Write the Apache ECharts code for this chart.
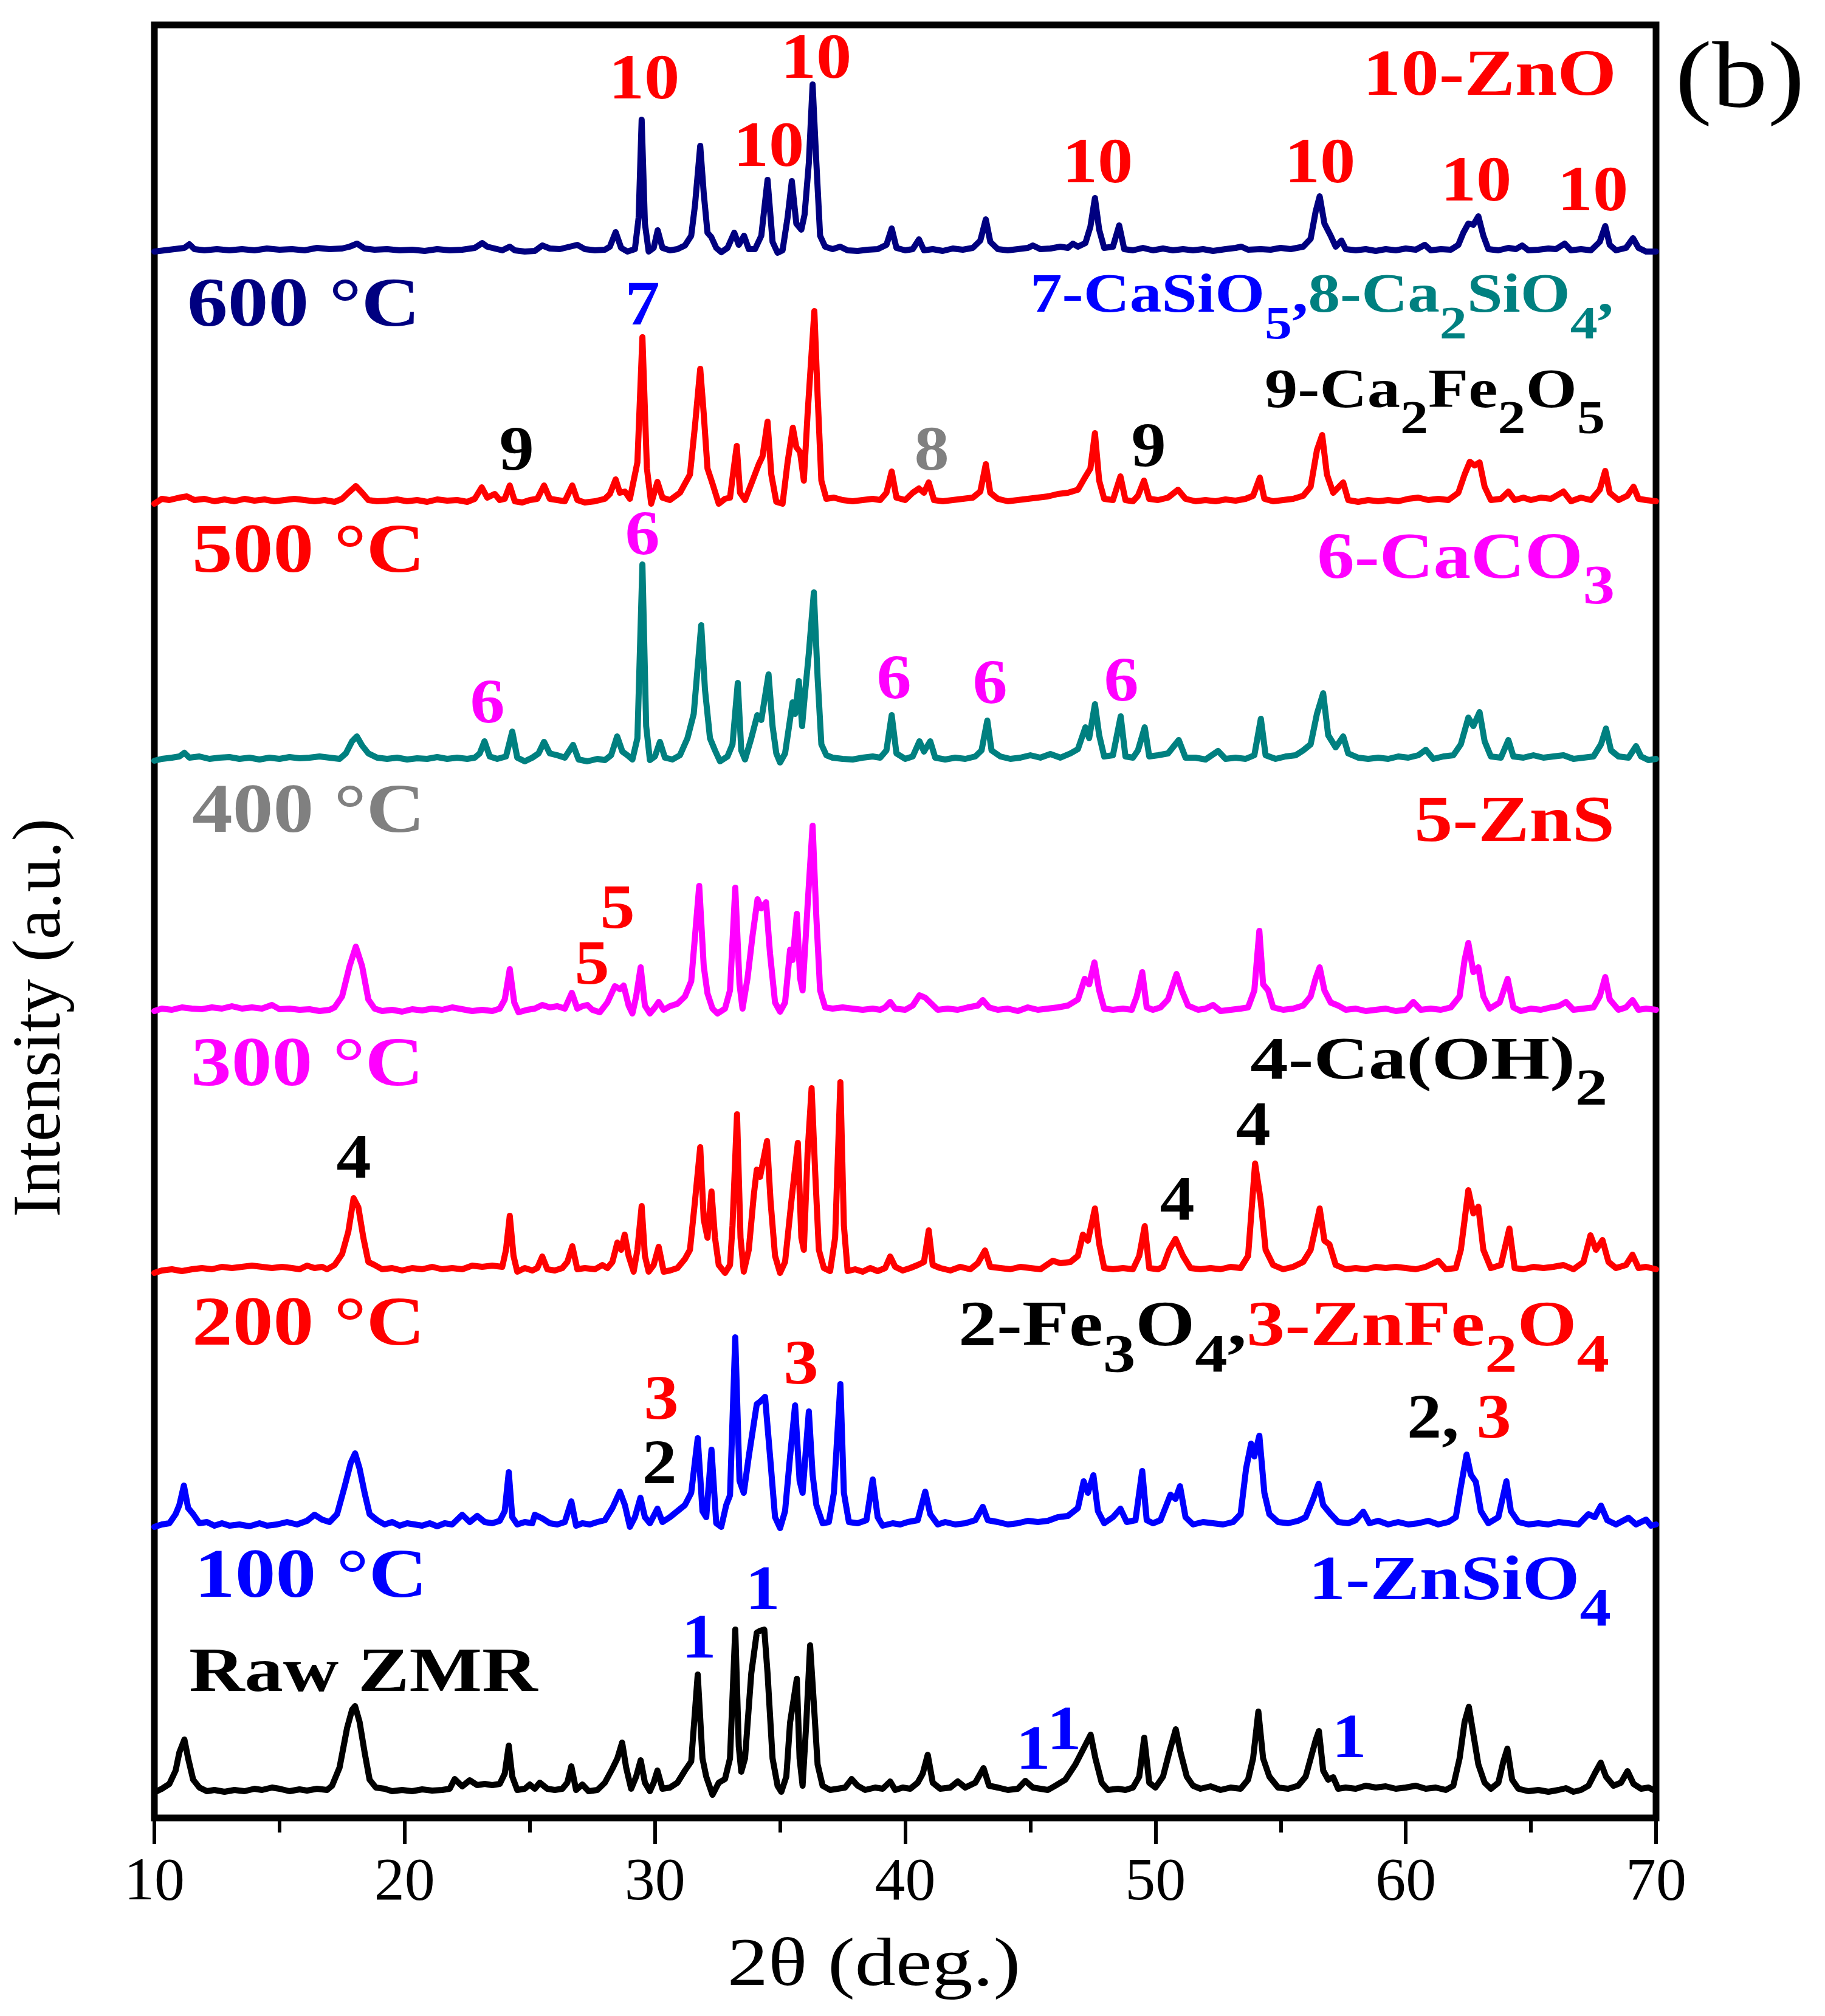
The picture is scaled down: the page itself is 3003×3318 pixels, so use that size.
<!DOCTYPE html>
<html>
<head>
<meta charset="utf-8">
<script src="https://cdn.jsdelivr.net/npm/echarts@6/dist/echarts.min.js"></script>
<style>
  html, body { margin: 0; padding: 0; background: #fff; }
  #chart { width: 3003px; height: 3318px; }
</style>
</head>
<body>
<div id="chart"></div>
<script>
// 2theta (deg) and height above each trace's own baseline
const raw = [[10.0,4],[10.3,10],[10.6,18],[10.85,40],[11.0,70],[11.2,91],[11.35,60],[11.55,25],[11.8,12],[12.1,6],[12.4,8],[12.8,5],[13.2,8],[13.6,6],[14.0,10],[14.3,8],[14.7,12],[15.0,10],[15.4,6],[15.8,9],[16.1,7],[16.5,10],[16.9,8],[17.1,15],[17.4,45],[17.7,110],[17.9,140],[18.02,146],[18.2,120],[18.4,70],[18.6,25],[18.85,12],[19.2,10],[19.5,6],[19.9,8],[20.3,6],[20.7,9],[21.1,7],[21.5,8],[21.8,10],[22.0,26],[22.3,14],[22.6,24],[22.9,16],[23.2,18],[23.5,16],[23.8,18],[24.0,35],[24.16,81],[24.3,30],[24.5,8],[24.8,10],[25.0,17],[25.2,10],[25.4,20],[25.7,10],[26.0,8],[26.3,10],[26.5,20],[26.66,47],[26.85,8],[27.1,17],[27.35,6],[27.7,8],[28.0,20],[28.3,43],[28.5,60],[28.69,86],[28.85,45],[29.05,10],[29.25,30],[29.43,57],[29.6,20],[29.8,6],[29.95,20],[30.1,40],[30.3,10],[30.6,12],[30.9,20],[31.2,40],[31.45,55],[31.71,198],[31.9,60],[32.05,30],[32.3,0],[32.55,20],[32.8,26],[33.0,60],[33.21,272],[33.35,80],[33.45,38],[33.6,60],[33.85,200],[34.07,267],[34.2,270],[34.37,272],[34.5,200],[34.7,60],[34.9,15],[35.05,5],[35.25,30],[35.4,119],[35.67,191],[35.78,60],[35.9,15],[36.05,120],[36.2,246],[36.35,150],[36.5,50],[36.7,15],[37.0,8],[37.3,10],[37.6,12],[37.86,26],[38.1,15],[38.4,8],[38.8,12],[39.1,10],[39.4,22],[39.6,8],[39.9,12],[40.2,10],[40.5,20],[40.7,35],[40.9,66],[41.1,20],[41.4,10],[41.8,12],[42.1,22],[42.4,12],[42.8,20],[43.13,44],[43.35,15],[43.7,12],[44.1,8],[44.5,10],[44.8,23],[45.1,12],[45.4,10],[45.7,8],[46.0,15],[46.4,25],[46.8,50],[47.1,74],[47.41,99],[47.6,60],[47.85,20],[48.1,8],[48.5,10],[48.8,8],[49.1,12],[49.35,30],[49.55,94],[49.75,20],[50.0,12],[50.3,30],[50.55,70],[50.81,108],[51.0,70],[51.25,30],[51.5,15],[51.8,10],[52.2,14],[52.6,8],[53.0,12],[53.4,10],[53.7,25],[53.9,60],[54.11,137],[54.3,60],[54.55,30],[54.9,12],[55.3,10],[55.7,15],[56.0,30],[56.2,60],[56.4,90],[56.53,105],[56.7,40],[56.9,25],[57.1,29],[57.3,10],[57.6,12],[58.0,10],[58.4,15],[58.8,12],[59.2,14],[59.6,10],[60.0,12],[60.4,15],[60.8,10],[61.2,12],[61.6,8],[61.9,15],[62.15,60],[62.35,120],[62.52,145],[62.7,100],[62.9,50],[63.15,20],[63.4,10],[63.7,20],[63.9,55],[64.06,76],[64.25,25],[64.5,10],[64.9,6],[65.3,8],[65.7,5],[66.1,8],[66.4,11],[66.7,5],[67.0,8],[67.3,15],[67.55,35],[67.79,53],[68.0,30],[68.3,15],[68.6,20],[68.86,39],[69.1,18],[69.4,10],[69.7,12],[70.0,6]]

const t100 = [[10.0,4],[10.3,8],[10.6,10],[10.85,25],[11.0,40],[11.18,72],[11.35,35],[11.55,25],[11.8,10],[12.1,12],[12.4,6],[12.7,10],[13.0,6],[13.4,8],[13.8,5],[14.2,10],[14.5,6],[14.9,8],[15.3,12],[15.7,8],[16.1,14],[16.4,24],[16.7,16],[17.0,12],[17.3,25],[17.6,70],[17.85,110],[18.02,125],[18.2,100],[18.4,60],[18.6,25],[18.9,15],[19.2,8],[19.5,12],[19.8,6],[20.1,10],[20.4,8],[20.7,6],[21.0,10],[21.3,5],[21.6,10],[21.9,8],[22.3,24],[22.6,12],[22.9,22],[23.2,12],[23.5,10],[23.8,14],[24.0,30],[24.16,94],[24.3,20],[24.5,8],[24.8,12],[25.1,10],[25.2,24],[25.5,18],[25.8,10],[26.1,8],[26.4,12],[26.66,46],[26.85,6],[27.1,10],[27.4,8],[27.7,12],[28.0,15],[28.3,35],[28.6,62],[28.8,40],[29.0,4],[29.2,20],[29.42,52],[29.6,20],[29.8,10],[30.1,34],[30.3,12],[30.6,20],[30.9,30],[31.2,40],[31.45,60],[31.71,150],[31.9,30],[32.05,20],[32.26,131],[32.45,10],[32.65,4],[32.85,40],[33.0,56],[33.21,316],[33.38,80],[33.55,60],[33.75,120],[34.07,206],[34.2,210],[34.4,218],[34.6,120],[34.8,20],[35.0,2],[35.2,30],[35.4,120],[35.6,204],[35.78,80],[35.9,60],[36.15,194],[36.3,90],[36.45,40],[36.7,10],[36.95,12],[37.15,60],[37.41,239],[37.55,60],[37.75,12],[38.1,10],[38.45,15],[38.7,82],[38.9,20],[39.1,6],[39.5,10],[39.8,8],[40.1,12],[40.5,15],[40.8,62],[41.0,25],[41.3,8],[41.6,12],[42.0,8],[42.4,10],[42.8,15],[43.1,37],[43.3,15],[43.7,12],[44.1,8],[44.5,10],[44.9,14],[45.3,12],[45.7,14],[46.1,20],[46.5,22],[46.9,35],[47.13,79],[47.3,60],[47.52,89],[47.7,30],[47.95,10],[48.3,20],[48.6,34],[48.85,12],[49.2,15],[49.47,96],[49.65,15],[49.9,10],[50.2,15],[50.6,57],[50.8,50],[50.98,71],[51.2,20],[51.5,8],[51.9,12],[52.3,10],[52.7,8],[53.1,12],[53.4,25],[53.62,100],[53.82,141],[53.95,120],[54.15,154],[54.35,60],[54.55,25],[54.9,12],[55.3,10],[55.7,14],[56.0,20],[56.3,50],[56.52,75],[56.7,40],[57.0,25],[57.3,12],[57.7,10],[58.0,15],[58.3,29],[58.55,10],[58.9,14],[59.3,8],[59.7,12],[60.1,8],[60.5,10],[60.9,14],[61.3,8],[61.7,12],[62.0,20],[62.2,70],[62.43,123],[62.6,90],[62.8,78],[63.0,30],[63.3,10],[63.7,20],[64.02,79],[64.2,30],[64.5,12],[64.9,8],[65.3,10],[65.7,8],[66.1,12],[66.5,10],[66.9,8],[67.3,25],[67.55,20],[67.8,39],[68.05,15],[68.4,8],[68.9,19],[69.2,8],[69.6,16],[69.8,6],[70.0,8]]

const t200 = [[10.0,2],[10.3,6],[10.7,8],[11.1,5],[11.5,8],[11.9,10],[12.3,8],[12.7,12],[13.1,10],[13.5,12],[13.9,14],[14.3,12],[14.7,10],[15.1,12],[15.5,10],[15.8,8],[16.1,14],[16.4,10],[16.7,12],[16.9,8],[17.2,15],[17.5,33],[17.75,70],[17.96,125],[18.15,110],[18.35,60],[18.55,20],[18.8,15],[19.1,8],[19.5,10],[19.9,6],[20.3,10],[20.7,8],[21.1,12],[21.5,8],[21.9,10],[22.3,8],[22.7,14],[23.1,12],[23.5,14],[23.9,12],[24.05,40],[24.2,96],[24.35,30],[24.5,4],[24.8,10],[25.1,6],[25.3,10],[25.5,29],[25.7,8],[26.0,6],[26.3,10],[26.5,20],[26.7,46],[26.9,8],[27.2,10],[27.6,8],[27.9,15],[28.1,10],[28.3,20],[28.5,52],[28.65,40],[28.79,65],[28.95,30],[29.15,4],[29.3,40],[29.47,112],[29.6,30],[29.75,4],[29.95,15],[30.15,45],[30.35,4],[30.6,6],[30.9,10],[31.2,25],[31.4,40],[31.6,120],[31.81,209],[31.95,90],[32.1,60],[32.26,136],[32.4,60],[32.55,15],[32.8,2],[33.0,15],[33.1,80],[33.28,263],[33.42,60],[33.55,4],[33.75,40],[33.95,130],[34.07,172],[34.2,160],[34.48,219],[34.62,120],[34.8,30],[35.0,2],[35.2,20],[35.45,119],[35.71,216],[35.85,60],[35.95,40],[36.1,200],[36.26,306],[36.4,170],[36.55,40],[36.75,10],[37.0,5],[37.2,60],[37.41,316],[37.55,80],[37.7,5],[38.0,8],[38.3,4],[38.6,10],[38.9,5],[39.2,10],[39.4,29],[39.6,12],[39.9,6],[40.2,10],[40.5,15],[40.75,20],[40.94,72],[41.1,15],[41.4,10],[41.8,6],[42.2,12],[42.6,8],[42.9,18],[43.19,39],[43.4,12],[43.8,10],[44.2,8],[44.6,12],[45.0,10],[45.4,8],[45.9,22],[46.2,18],[46.6,20],[46.9,30],[47.1,65],[47.3,55],[47.58,108],[47.75,50],[47.95,10],[48.3,8],[48.7,10],[49.1,8],[49.35,30],[49.57,79],[49.75,10],[50.1,8],[50.3,12],[50.55,40],[50.8,58],[51.1,30],[51.4,10],[51.8,8],[52.2,10],[52.6,8],[53.0,12],[53.4,10],[53.7,30],[53.98,182],[54.2,122],[54.4,40],[54.7,15],[55.1,8],[55.5,12],[55.9,20],[56.2,40],[56.56,108],[56.75,55],[56.95,49],[57.2,15],[57.6,8],[58.0,10],[58.4,8],[58.8,12],[59.2,10],[59.6,12],[60.0,10],[60.4,8],[60.8,12],[61.3,22],[61.6,8],[62.0,10],[62.2,40],[62.5,138],[62.7,100],[62.9,111],[63.1,40],[63.4,10],[63.8,15],[64.14,75],[64.35,10],[64.7,8],[65.1,12],[65.5,10],[65.9,12],[66.3,15],[66.7,8],[67.1,20],[67.38,64],[67.6,40],[67.86,56],[68.1,20],[68.4,10],[68.8,15],[69.06,32],[69.3,10],[69.6,12],[70.0,8]]

const t300 = [[10.0,6],[10.3,10],[10.7,8],[11.1,12],[11.5,10],[11.9,9],[12.3,12],[12.7,10],[13.1,14],[13.5,10],[13.9,12],[14.3,10],[14.7,16],[15.0,9],[15.4,10],[15.8,8],[16.2,9],[16.6,6],[17.0,8],[17.2,12],[17.5,30],[17.8,80],[18.05,112],[18.3,80],[18.55,25],[18.8,10],[19.1,6],[19.5,8],[19.9,5],[20.3,9],[20.7,7],[21.1,10],[21.5,8],[21.9,12],[22.3,9],[22.7,6],[23.1,8],[23.5,6],[23.8,10],[24.0,25],[24.2,75],[24.38,20],[24.55,4],[24.9,8],[25.2,10],[25.5,16],[25.8,12],[26.1,14],[26.4,10],[26.68,36],[26.9,10],[27.1,14],[27.3,16],[27.5,8],[27.8,4],[28.1,20],[28.4,47],[28.6,42],[28.75,48],[28.95,15],[29.1,2],[29.25,30],[29.43,78],[29.6,15],[29.8,2],[30.0,12],[30.15,21],[30.35,8],[30.6,14],[30.9,18],[31.2,30],[31.45,55],[31.77,212],[31.95,80],[32.1,35],[32.3,10],[32.5,2],[32.8,10],[33.0,40],[33.21,209],[33.38,50],[33.5,10],[33.7,60],[33.9,130],[34.1,190],[34.25,175],[34.44,185],[34.6,100],[34.8,20],[35.0,5],[35.2,20],[35.4,107],[35.5,90],[35.67,166],[35.8,60],[35.9,40],[36.1,180],[36.3,311],[36.45,160],[36.6,40],[36.8,12],[37.1,10],[37.5,12],[37.9,10],[38.3,8],[38.7,10],[39.0,8],[39.2,12],[39.4,21],[39.6,10],[40.0,8],[40.3,15],[40.57,32],[40.8,28],[41.0,20],[41.3,8],[41.7,10],[42.1,8],[42.5,12],[42.9,15],[43.1,24],[43.35,12],[43.7,8],[44.1,10],[44.5,6],[44.9,12],[45.3,8],[45.7,10],[46.1,12],[46.5,15],[46.9,25],[47.17,59],[47.35,50],[47.56,86],[47.75,40],[47.95,10],[48.3,8],[48.7,10],[49.05,8],[49.25,30],[49.47,70],[49.65,12],[49.9,8],[50.2,12],[50.5,25],[50.84,67],[51.05,40],[51.3,15],[51.7,8],[52.0,10],[52.3,16],[52.6,6],[53.0,8],[53.4,10],[53.7,12],[53.95,40],[54.15,138],[54.3,50],[54.5,40],[54.7,12],[55.1,8],[55.5,10],[55.9,15],[56.2,30],[56.4,60],[56.56,78],[56.75,40],[57.0,20],[57.3,15],[57.6,8],[58.0,10],[58.4,6],[58.8,8],[59.2,10],[59.6,6],[60.0,8],[60.3,21],[60.6,8],[61.0,10],[61.4,8],[61.8,12],[62.15,30],[62.35,90],[62.5,118],[62.7,70],[62.9,78],[63.1,30],[63.35,10],[63.75,20],[64.07,59],[64.3,12],[64.6,6],[65.0,10],[65.4,8],[65.8,12],[66.1,14],[66.4,21],[66.7,8],[67.1,10],[67.5,12],[67.75,30],[67.97,62],[68.15,25],[68.5,8],[68.8,12],[69.06,24],[69.3,8],[69.6,10],[70.0,8]]

const t400 = [[10.0,3],[10.3,6],[10.7,8],[11.0,10],[11.2,16],[11.4,8],[11.8,10],[12.2,6],[12.6,8],[13.0,9],[13.4,6],[13.8,8],[14.2,5],[14.6,8],[15.0,6],[15.4,9],[15.8,7],[16.2,8],[16.6,10],[17.0,8],[17.4,6],[17.65,15],[17.9,35],[18.09,43],[18.3,28],[18.55,15],[18.9,8],[19.3,6],[19.7,8],[20.1,5],[20.5,7],[20.9,6],[21.3,9],[21.7,6],[22.1,8],[22.5,6],[22.8,8],[23.0,15],[23.19,35],[23.4,10],[23.7,6],[24.05,10],[24.3,51],[24.5,8],[24.8,2],[25.1,8],[25.35,15],[25.57,34],[25.8,15],[26.1,12],[26.4,8],[26.73,29],[26.95,5],[27.3,2],[27.7,6],[28.0,4],[28.25,12],[28.49,43],[28.7,18],[28.9,12],[29.1,5],[29.3,40],[29.5,326],[29.65,60],[29.8,4],[30.0,10],[30.2,34],[30.4,8],[30.7,5],[31.0,12],[31.3,40],[31.55,80],[31.85,226],[32.0,120],[32.2,40],[32.4,20],[32.6,2],[32.9,10],[33.1,30],[33.31,131],[33.45,20],[33.6,5],[33.85,40],[34.09,78],[34.25,70],[34.54,145],[34.7,60],[34.85,15],[35.0,0],[35.2,15],[35.5,99],[35.6,80],[35.75,134],[35.88,60],[35.98,107],[36.15,180],[36.35,280],[36.5,140],[36.65,30],[36.85,12],[37.1,8],[37.5,6],[37.9,5],[38.3,8],[38.7,10],[39.0,8],[39.25,20],[39.46,78],[39.65,15],[40.0,6],[40.3,10],[40.57,35],[40.75,18],[41.0,35],[41.2,8],[41.6,5],[42.0,8],[42.4,6],[42.8,10],[43.05,20],[43.28,69],[43.45,20],[43.8,10],[44.2,6],[44.6,8],[45.0,12],[45.4,8],[45.8,14],[46.2,8],[46.6,15],[46.9,22],[47.2,58],[47.35,40],[47.58,96],[47.75,45],[47.95,10],[48.3,12],[48.61,76],[48.8,10],[49.1,8],[49.3,20],[49.57,58],[49.75,10],[50.1,12],[50.5,15],[50.93,37],[51.2,8],[51.6,8],[52.0,5],[52.5,19],[52.8,6],[53.2,8],[53.6,6],[53.95,12],[54.21,72],[54.4,12],[54.8,6],[55.2,10],[55.6,12],[55.9,20],[56.2,30],[56.45,80],[56.7,114],[56.9,45],[57.2,25],[57.5,43],[57.7,15],[58.1,8],[58.5,6],[58.9,8],[59.3,6],[59.7,10],[60.1,8],[60.5,12],[60.8,21],[61.1,6],[61.5,10],[61.9,12],[62.2,30],[62.5,74],[62.7,60],[62.95,83],[63.15,35],[63.4,10],[63.8,8],[64.1,37],[64.3,10],[64.7,8],[65.1,12],[65.5,8],[65.9,10],[66.3,12],[66.7,6],[67.1,8],[67.5,10],[67.8,30],[68.0,56],[68.2,20],[68.5,10],[68.9,8],[69.2,27],[69.4,10],[69.7,4],[70.0,6]]

const t500 = [[10.0,2],[10.3,10],[10.6,8],[11.0,12],[11.3,14],[11.6,8],[12.0,10],[12.4,6],[12.8,9],[13.2,6],[13.6,10],[14.0,7],[14.4,9],[14.8,6],[15.2,8],[15.6,10],[16.0,8],[16.4,6],[16.8,8],[17.2,5],[17.5,10],[17.75,20],[18.05,31],[18.3,20],[18.55,8],[18.9,6],[19.3,7],[19.7,9],[20.1,6],[20.5,8],[20.9,5],[21.3,9],[21.7,7],[22.1,8],[22.5,5],[22.8,10],[23.08,29],[23.3,12],[23.6,18],[23.8,8],[24.0,10],[24.2,32],[24.4,6],[24.7,4],[25.0,8],[25.3,10],[25.57,32],[25.8,10],[26.1,8],[26.4,6],[26.7,32],[26.9,8],[27.2,4],[27.6,6],[28.0,10],[28.2,18],[28.43,42],[28.6,20],[28.8,22],[29.0,10],[29.3,70],[29.5,276],[29.68,60],[29.85,2],[30.1,38],[30.3,12],[30.6,8],[31.0,20],[31.2,35],[31.4,50],[31.6,130],[31.81,224],[31.95,150],[32.1,60],[32.3,35],[32.55,2],[32.8,10],[33.0,12],[33.15,60],[33.27,97],[33.4,20],[33.6,8],[33.9,40],[34.15,67],[34.3,80],[34.5,137],[34.65,50],[34.85,5],[35.1,2],[35.3,70],[35.51,127],[35.65,95],[35.8,87],[35.95,40],[36.1,150],[36.37,319],[36.5,180],[36.65,40],[36.85,10],[37.15,12],[37.5,8],[37.9,6],[38.3,8],[38.7,10],[39.0,8],[39.25,20],[39.46,55],[39.65,12],[40.0,8],[40.3,20],[40.55,27],[40.75,20],[40.94,37],[41.15,8],[41.5,6],[41.9,8],[42.3,10],[42.7,12],[43.0,22],[43.22,67],[43.4,20],[43.7,10],[44.1,6],[44.5,8],[44.9,10],[45.3,12],[45.7,14],[46.1,18],[46.5,20],[46.9,25],[47.18,45],[47.4,60],[47.58,118],[47.75,40],[47.95,10],[48.3,8],[48.6,47],[48.8,8],[49.1,6],[49.3,15],[49.54,40],[49.75,10],[50.1,8],[50.5,12],[50.9,25],[51.2,10],[51.6,6],[52.0,8],[52.4,6],[52.8,9],[53.2,7],[53.6,10],[53.9,15],[54.17,45],[54.35,10],[54.7,6],[55.1,8],[55.5,10],[55.9,15],[56.2,30],[56.45,90],[56.66,115],[56.85,50],[57.1,20],[57.5,37],[57.7,8],[58.1,5],[58.5,8],[58.9,6],[59.3,8],[59.7,6],[60.1,10],[60.5,12],[60.9,8],[61.3,10],[61.7,8],[62.1,20],[62.35,50],[62.56,71],[62.75,65],[62.95,70],[63.15,30],[63.4,8],[63.8,10],[64.1,22],[64.35,8],[64.7,12],[65.0,8],[65.4,12],[65.8,10],[66.3,22],[66.6,6],[67.0,12],[67.4,8],[67.75,25],[67.97,56],[68.15,20],[68.5,8],[68.85,15],[69.1,30],[69.3,10],[69.6,8],[70.0,6]]

const t600 = [[10.0,4],[10.4,6],[10.8,8],[11.2,10],[11.4,16],[11.6,8],[12.0,6],[12.5,8],[13.0,6],[13.5,8],[14.0,6],[14.5,9],[15.0,7],[15.5,8],[16.0,6],[16.5,10],[17.0,8],[17.5,9],[17.8,12],[18.1,17],[18.4,9],[18.8,7],[19.3,8],[19.8,6],[20.3,7],[20.8,5],[21.3,8],[21.8,6],[22.3,7],[22.8,10],[23.1,18],[23.3,12],[23.6,9],[23.9,6],[24.2,12],[24.4,6],[24.8,4],[25.2,5],[25.5,14],[25.8,9],[26.2,8],[26.6,12],[26.9,15],[27.2,8],[27.6,6],[28.0,7],[28.2,12],[28.43,36],[28.65,10],[28.9,4],[29.2,8],[29.35,60],[29.47,221],[29.6,50],[29.75,4],[29.95,10],[30.11,39],[30.3,10],[30.6,6],[30.9,8],[31.2,14],[31.45,30],[31.6,80],[31.81,178],[31.95,100],[32.1,35],[32.25,28],[32.45,10],[32.65,3],[32.9,10],[33.17,35],[33.35,15],[33.56,30],[33.75,8],[34.0,8],[34.25,30],[34.5,122],[34.7,20],[34.9,2],[35.1,6],[35.3,60],[35.47,120],[35.65,50],[35.85,40],[35.98,65],[36.15,150],[36.3,279],[36.45,150],[36.6,30],[36.8,12],[37.1,8],[37.4,12],[37.7,6],[38.1,5],[38.5,7],[38.9,8],[39.25,15],[39.46,42],[39.65,10],[40.0,6],[40.3,8],[40.55,24],[40.75,6],[41.1,8],[41.5,5],[41.9,9],[42.3,7],[42.7,10],[43.0,22],[43.22,57],[43.4,20],[43.7,8],[44.1,6],[44.5,8],[44.9,10],[45.1,14],[45.4,8],[45.8,9],[46.2,12],[46.5,10],[46.7,17],[46.9,12],[47.2,18],[47.4,45],[47.58,92],[47.75,40],[47.95,10],[48.3,12],[48.55,47],[48.75,8],[49.1,6],[49.5,10],[49.9,6],[50.3,9],[50.7,6],[51.1,8],[51.5,6],[51.9,8],[52.3,5],[52.8,8],[53.2,10],[53.43,12],[53.7,7],[54.2,8],[54.6,7],[55.0,10],[55.4,8],[55.9,12],[56.2,25],[56.4,70],[56.56,95],[56.75,50],[57.0,30],[57.2,12],[57.43,22],[57.6,8],[58.0,6],[58.4,8],[58.8,5],[59.2,8],[59.6,6],[60.0,9],[60.4,7],[60.76,15],[61.0,6],[61.4,8],[61.8,7],[62.1,15],[62.3,35],[62.5,50],[62.7,48],[62.9,62],[63.1,30],[63.3,8],[63.7,6],[64.1,10],[64.4,8],[64.65,14],[64.9,6],[65.3,7],[65.7,9],[66.0,8],[66.35,17],[66.6,6],[67.0,8],[67.4,6],[67.75,20],[67.97,46],[68.15,15],[68.4,6],[68.8,10],[69.08,26],[69.3,10],[69.6,4],[70.0,4]]

const traceNames = ['Raw ZMR', '100 °C', '200 °C', '300 °C', '400 °C', '500 °C', '600 °C']
const traceData = [raw, t100, t200, t300, t400, t500, t600]

// stacking: each pattern is lifted by its own baseline offset (y axis is in px units)
const traceOffset = [38, 475, 895, 1322, 1737, 2161, 2574]
const traceColor = ['#000000', '#0000FF', '#FF0000', '#FF00FF', '#008080', '#FF0000', '#000080']

const FONT = '"Liberation Serif", "Times New Roman", serif'
const chart = echarts.init(document.getElementById('chart'), null, {renderer: 'canvas'})

chart.setOption({
  backgroundColor: '#fff',
  animation: false,
  grid: {
    left: 254, right: 278, top: 41, bottom: 326,
    show: true, borderColor: '#000', borderWidth: 11, backgroundColor: 'transparent'
  },
  xAxis: {
    type: 'value', min: 10, max: 70, interval: 10,
    axisLine: {show: false},
    axisTick: {show: true, length: 43, lineStyle: {color: '#000', width: 6}},
    minorTick: {show: true, splitNumber: 2, length: 24, lineStyle: {color: '#000', width: 6}},
    splitLine: {show: false},
    minorSplitLine: {show: false},
    axisLabel: {fontSize: 100, fontFamily: FONT, color: '#000', margin: 58, showMinLabel: true, showMaxLabel: true}
  },
  yAxis: {
    type: 'value', min: 0, max: 2951,
    axisLine: {show: false}, axisTick: {show: false}, axisLabel: {show: false}, splitLine: {show: false}
  },
  series: traceData.map((pts, i) => ({
    name: traceNames[i],
    type: 'line',
    symbol: 'none',
    data: pts.map(p => [p[0], p[1] + traceOffset[i]]),
    lineStyle: {color: traceColor[i], width: 10, join: 'round', cap: 'round'},
    z: 2 + i
  }))
})

// ---- annotations (zrender text, so subscripts / mixed colours work) ----
const zr = chart.getZr()

const richStyle = (color, size) => ({
  fill: color, fontSize: size, fontFamily: FONT, fontWeight: 'bold'
})
const subStyle = (color, size) => ({
  fill: color, fontSize: Math.round(size * 0.85), fontFamily: FONT, fontWeight: 'bold', padding: [94, 0, 0, 0]
})

// x, baseline y, size, align, text
const addText = function (x, yb, size, align, text, opt) {
  opt = opt || {}
  const style = {
    text: text,
    fill: opt.color || '#000',
    fontSize: size,
    fontFamily: FONT,
    fontWeight: opt.normal ? 'normal' : 'bold',
    align: align,
    verticalAlign: 'middle'
  }
  if (opt.rich) style.rich = opt.rich
  zr.add(new echarts.graphic.Text({
    x: x,
    y: opt.rotation ? yb : yb - 0.3375 * size,
    scaleX: opt.scaleX || 1,
    rotation: opt.rotation || 0,
    z: 100,
    style: style
  }))
}

const NAVY = '#000080', RED = '#FF0000', TEAL = '#008080', MAG = '#FF00FF', BLUE = '#0000FF', GREY = '#808080'

// sample names
addText(308, 545, 115, 'left', '600 °C', {color: NAVY, scaleX: 1.16})
addText(316, 950, 115, 'left', '500 °C', {color: RED, scaleX: 1.16})
addText(316, 1378, 115, 'left', '400 °C', {color: GREY, scaleX: 1.16})
addText(314, 1795, 115, 'left', '300 °C', {color: MAG, scaleX: 1.16})
addText(316, 2222, 115, 'left', '200 °C', {color: RED, scaleX: 1.16})
addText(320, 2637, 115, 'left', '100 °C', {color: BLUE, scaleX: 1.16})
addText(311, 2791, 103, 'left', 'Raw ZMR', {color: '#000', scaleX: 1.23})

// phase keys
addText(2660, 164, 107, 'right', '10-ZnO', {color: RED, scaleX: 1.17})
addText(2655, 520, 90, 'right', '{b|7-CaSiO}{bs|5}{b|,}{t|8-Ca}{ts|2}{t|SiO}{ts|4}{t|,}', {scaleX: 1.17, rich: {
  b: richStyle(BLUE, 90), bs: subStyle(BLUE, 90), t: richStyle(TEAL, 90), ts: subStyle(TEAL, 90)}})
addText(2641, 677, 92, 'right', '{k|9-Ca}{ks|2}{k|Fe}{ks|2}{k|O}{ks|5}', {scaleX: 1.18, rich: {
  k: richStyle('#000', 92), ks: subStyle('#000', 92)}})
addText(2657, 959, 107, 'right', '{m|6-CaCO}{ms|3}', {scaleX: 1.15, rich: {
  m: richStyle(MAG, 107), ms: subStyle(MAG, 107)}})
addText(2657, 1392, 107, 'right', '5-ZnS', {color: RED, scaleX: 1.18})
addText(2645, 1783, 100, 'right', '{k|4-Ca(OH)}{ks|2}', {scaleX: 1.25, rich: {
  k: richStyle('#000', 100), ks: subStyle('#000', 100)}})
addText(2648, 2222, 105, 'right', '{k|2-Fe}{ks|3}{k|O}{ks|4}{k|,}{r|3-ZnFe}{rs|2}{r|O}{rs|4}', {scaleX: 1.2, rich: {
  k: richStyle('#000', 105), ks: subStyle('#000', 105), r: richStyle(RED, 105), rs: subStyle(RED, 105)}})
addText(2651, 2640, 104, 'right', '{b|1-ZnSiO}{bs|4}', {scaleX: 1.17, rich: {
  b: richStyle(BLUE, 104), bs: subStyle(BLUE, 104)}})

// peak markers: text, centre x, baseline y, colour
const peakMarks = [
  ['10', 1060, 170, RED], ['10', 1343, 136, RED], ['10', 1265, 281, RED],
  ['10', 1806, 308, RED], ['10', 2172, 308, RED], ['10', 2429, 338, RED], ['10', 2621, 354, RED],
  ['7', 1057, 542, BLUE],
  ['9', 850, 781, '#000'], ['8', 1533, 781, GREY], ['9', 1890, 775, '#000'],
  ['6', 1057, 920, MAG], ['6', 802, 1197, MAG], ['6', 1471, 1157, MAG], ['6', 1629, 1165, MAG], ['6', 1845, 1161, MAG],
  ['5', 1016, 1535, RED], ['5', 974, 1627, RED],
  ['4', 582, 1946, '#000'], ['4', 1937, 2015, '#000'], ['4', 2062, 1892, '#000'],
  ['3', 1088, 2343, RED], ['2', 1085, 2449, '#000'], ['3', 1318, 2285, RED],
  ['1', 1150, 2736, BLUE], ['1', 1255, 2656, BLUE], ['1', 1700, 2919, BLUE], ['1', 1751, 2887, BLUE], ['1', 2220, 2900, BLUE]
]
peakMarks.forEach(function (m) {
  addText(m[1], m[2], m[0].length > 1 ? 106 : 104, 'center', m[0], {color: m[3], scaleX: 1.1})
})
addText(2315, 2374, 104, 'left', '{k|2, }{r|3}', {scaleX: 1.1, rich: {k: richStyle('#000', 104), r: richStyle(RED, 104)}})

// panel letter and axis titles
addText(2863, 187, 155, 'center', '(b)', {normal: true, scaleX: 1.18})
addText(1438, 3275, 112, 'center', '2θ (deg.)', {normal: true, scaleX: 1.2})
addText(69, 1675, 112, 'center', 'Intensity (a.u.)', {normal: true, rotation: Math.PI / 2})
</script>
</body>
</html>
